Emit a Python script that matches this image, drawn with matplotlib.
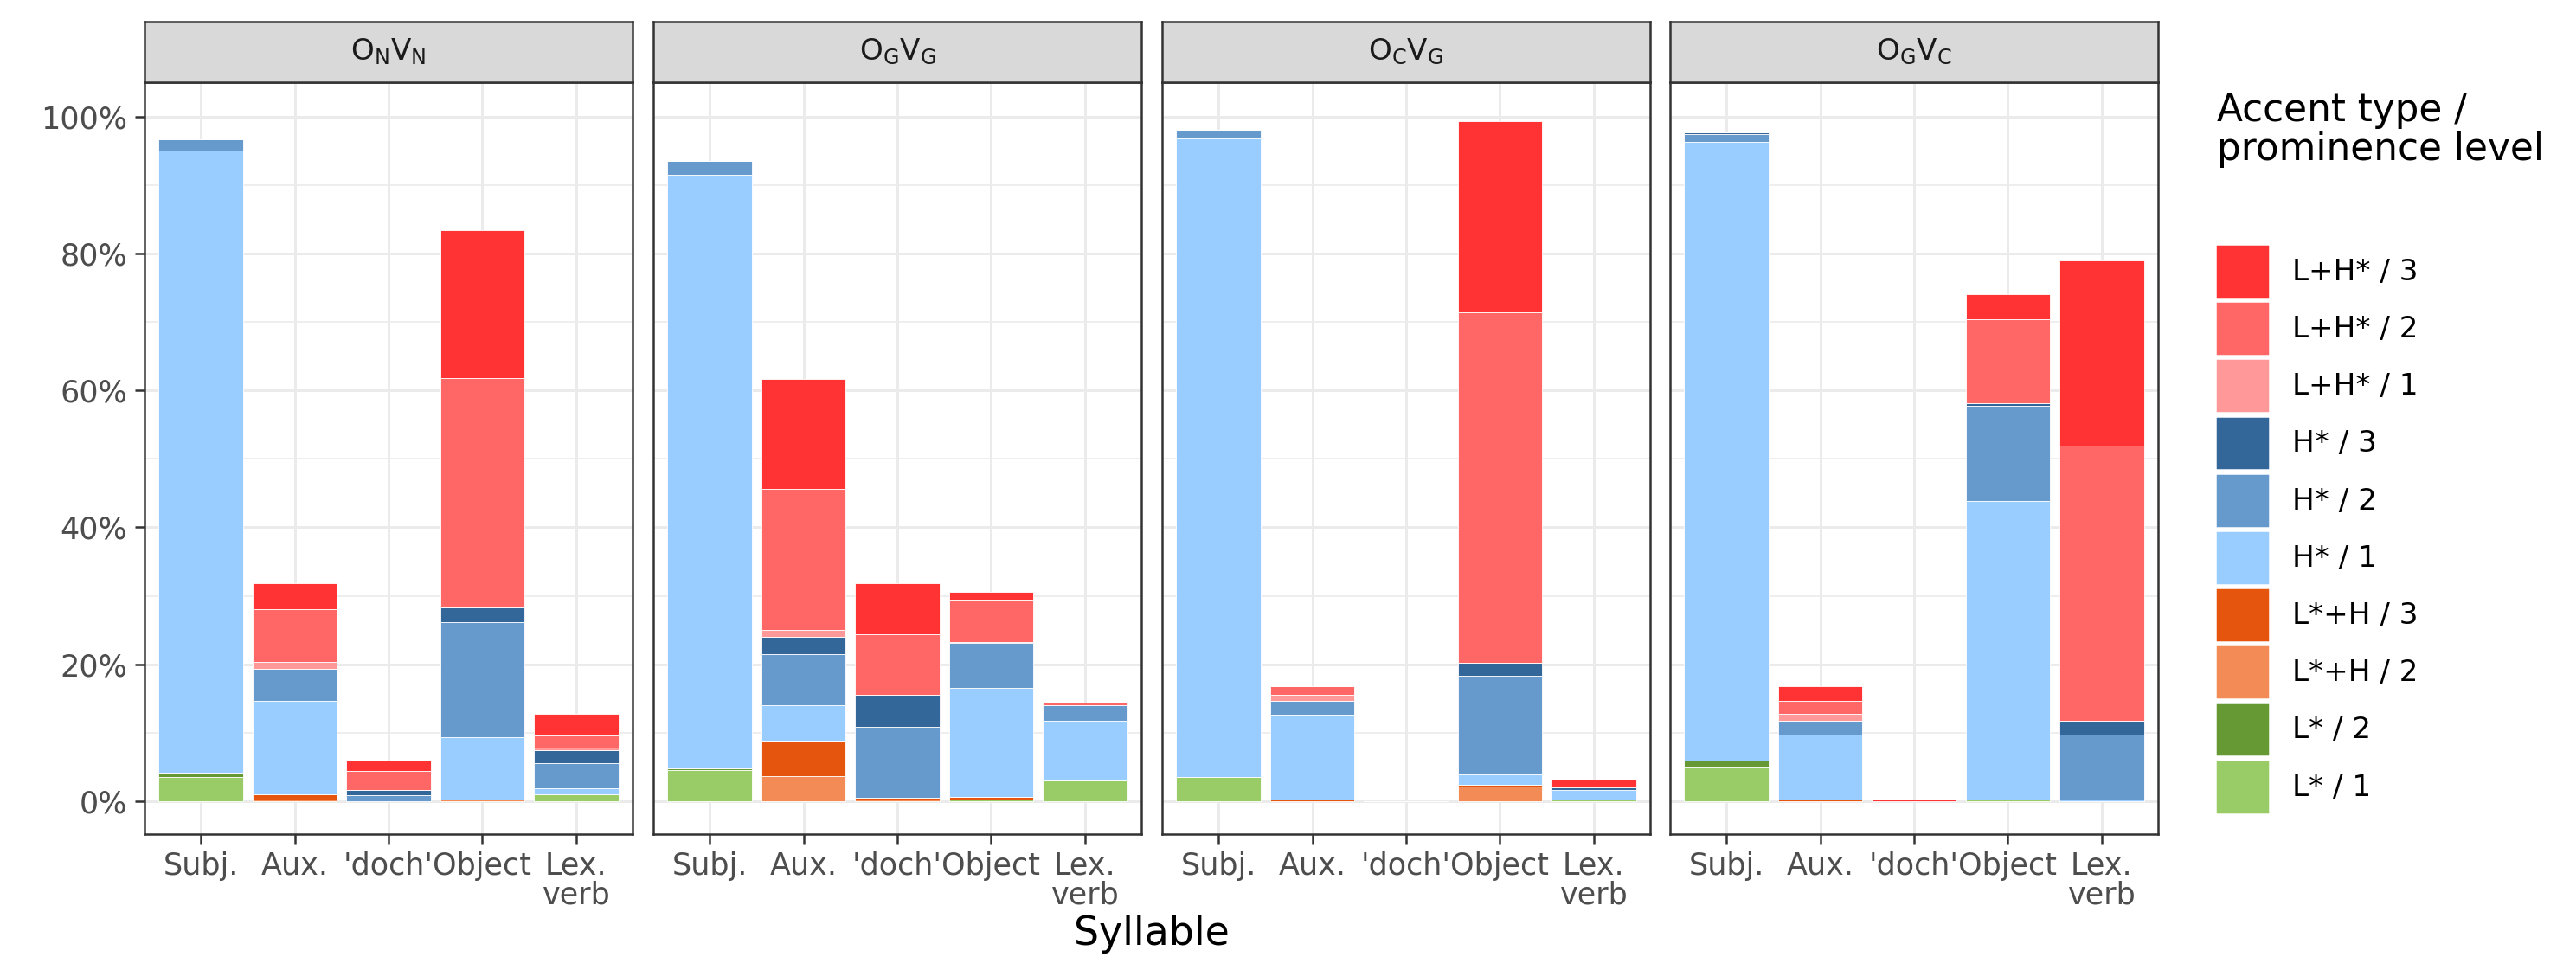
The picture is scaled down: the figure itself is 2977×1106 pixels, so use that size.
import numpy as np
import matplotlib
matplotlib.use('Agg')
import matplotlib.pyplot as plt
from matplotlib.patches import Patch

W, H, DPI = 2978, 1106, 300

syllables = ['Subj.', 'Aux.', "'doch'", 'Object', 'Lex.\nverb']
panels = [r'$\mathregular{O_NV_N}$', r'$\mathregular{O_GV_G}$',
          r'$\mathregular{O_CV_G}$', r'$\mathregular{O_GV_C}$']

# stacking order, bottom -> top
levels = ['L* / 1', 'L* / 2', 'L*+H / 2', 'L*+H / 3', 'H* / 1',
          'H* / 2', 'H* / 3', 'L+H* / 1', 'L+H* / 2', 'L+H* / 3']
colors = ['#99CC66', '#669933', '#F28B55', '#E6550D', '#99CCFF',
          '#6699CC', '#336699', '#FF9999', '#FF6666', '#FF3333']

# shares in %, one row per level, columns = syllables
onvn = [
    [3.5, 0.0, 0.0, 0.0, 1.0],
    [0.7, 0.0, 0.0, 0.0, 0.0],
    [0.0, 0.3, 0.0, 0.3, 0.0],
    [0.0, 0.7, 0.0, 0.0, 0.0],
    [90.8, 13.7, 0.0, 9.0, 0.9],
    [1.7, 4.6, 0.9, 16.8, 3.7],
    [0.0, 0.0, 0.7, 2.2, 1.8],
    [0.0, 1.1, 0.0, 0.0, 0.4],
    [0.0, 7.6, 2.8, 33.5, 1.8],
    [0.0, 3.9, 1.6, 21.6, 3.1],
]
ogvg = [
    [4.6, 0.0, 0.0, 0.3, 3.0],
    [0.2, 0.0, 0.0, 0.0, 0.0],
    [0.0, 3.7, 0.2, 0.0, 0.0],
    [0.0, 5.1, 0.3, 0.3, 0.0],
    [86.7, 5.2, 0.0, 15.9, 8.7],
    [2.0, 7.5, 10.4, 6.6, 2.3],
    [0.0, 2.5, 4.6, 0.2, 0.0],
    [0.0, 1.0, 0.0, 0.0, 0.0],
    [0.0, 20.6, 8.9, 6.1, 0.4],
    [0.0, 16.0, 7.5, 1.2, 0.0],
]
ocvg = [
    [3.5, 0.0, 0.0, 0.0, 0.3],
    [0.0, 0.0, 0.0, 0.0, 0.0],
    [0.0, 0.0, 0.0, 2.1, 0.0],
    [0.0, 0.3, 0.0, 0.3, 0.0],
    [93.3, 12.3, 0.0, 1.5, 1.4],
    [1.3, 2.0, 0.0, 14.4, 0.0],
    [0.0, 0.0, 0.0, 1.9, 0.3],
    [0.0, 1.0, 0.0, 0.0, 0.0],
    [0.0, 1.2, 0.0, 51.2, 0.0],
    [0.0, 0.0, 0.0, 27.9, 1.1],
]
ogvc = [
    [5.0, 0.0, 0.0, 0.3, 0.0],
    [1.0, 0.0, 0.0, 0.0, 0.0],
    [0.0, 0.0, 0.0, 0.0, 0.0],
    [0.0, 0.3, 0.0, 0.0, 0.0],
    [90.3, 9.4, 0.0, 43.5, 0.3],
    [1.1, 2.0, 0.0, 14.0, 9.4],
    [0.3, 0.0, 0.0, 0.3, 2.1],
    [0.0, 1.1, 0.0, 0.0, 0.0],
    [0.0, 1.9, 0.0, 12.3, 40.1],
    [0.0, 2.1, 0.3, 3.6, 27.1],
]
data = [onvn, ogvg, ocvg, ogvc]

fig = plt.figure(figsize=(W / DPI, H / DPI), dpi=DPI)
plt.rcParams['font.family'] = 'DejaVu Sans'

px_left = [167, 755, 1343, 1930]
pw = 564
p_top, p_bot, s_top = 95, 964, 25
x = np.arange(len(syllables))

for i, (name, vals) in enumerate(zip(panels, data)):
    ax = fig.add_axes([px_left[i] / W, 1 - p_bot / H, pw / W, (p_bot - p_top) / H])
    vals = np.asarray(vals) / 100.0
    bottom = np.zeros(len(syllables))
    for lev, col, row in zip(levels, colors, vals):
        ax.bar(x, row, 0.9, bottom=bottom, color=col, edgecolor='white',
               linewidth=0.2, zorder=3)
        bottom += row
    ax.set_xlim(-0.6, 4.6)
    ax.set_ylim(-0.048, 1.05)
    ax.set_yticks(np.arange(0, 1.01, 0.2))
    ax.set_yticks(np.arange(0.1, 1.0, 0.2), minor=True)
    ax.grid(True, which='major', color='#EBEBEB', linewidth=0.7, zorder=0)
    ax.grid(True, which='minor', axis='y', color='#EBEBEB', linewidth=0.4, zorder=0)
    ax.set_xticks(x)
    ax.set_xticklabels(syllables, fontsize=8.4, color='#4D4D4D', linespacing=1.0)
    ax.tick_params(axis='both', which='major', length=2.75, width=0.6,
                   color='#333333', pad=2)
    ax.tick_params(axis='y', which='minor', length=0)
    if i == 0:
        ax.set_yticklabels([f'{int(round(v * 100))}%' for v in np.arange(0, 1.01, 0.2)],
                           fontsize=8.4, color='#4D4D4D')
    else:
        ax.tick_params(axis='y', which='major', labelleft=False, length=0)
    for sp in ax.spines.values():
        sp.set_color('#333333')
        sp.set_linewidth(0.6)
    ax.set_axisbelow(True)

    # facet strip
    sx = fig.add_axes([px_left[i] / W, 1 - p_top / H, pw / W, (p_top - s_top) / H])
    sx.set_facecolor('#D9D9D9')
    sx.set_xticks([])
    sx.set_yticks([])
    for sp in sx.spines.values():
        sp.set_color('#333333')
        sp.set_linewidth(0.6)
    sx.text(0.5, 0.5, name, ha='center', va='center', fontsize=8.2,
            color='#1A1A1A', transform=sx.transAxes)

fig.text((167 + 2494) / 2 / W, 1 - 1079 / H, 'Syllable', ha='center',
         va='center', fontsize=11)

# legend
fig.text(2562 / W, 1 - 106 / H, 'Accent type /\nprominence level', ha='left',
         va='top', fontsize=10.5, linespacing=1.05)
handles = [Patch(facecolor=c, edgecolor='white', linewidth=0.6)
           for c in colors[::-1]]
fig.legend(handles, levels[::-1], loc='upper left',
           bbox_to_anchor=(2560 / W, 1 - 282 / H), frameon=False,
           fontsize=8.2, handlelength=1.85, handleheight=2.45,
           handletextpad=0.75, labelspacing=0.1, borderpad=0,
           borderaxespad=0)

fig.savefig('out.png', dpi=DPI, facecolor='white')
